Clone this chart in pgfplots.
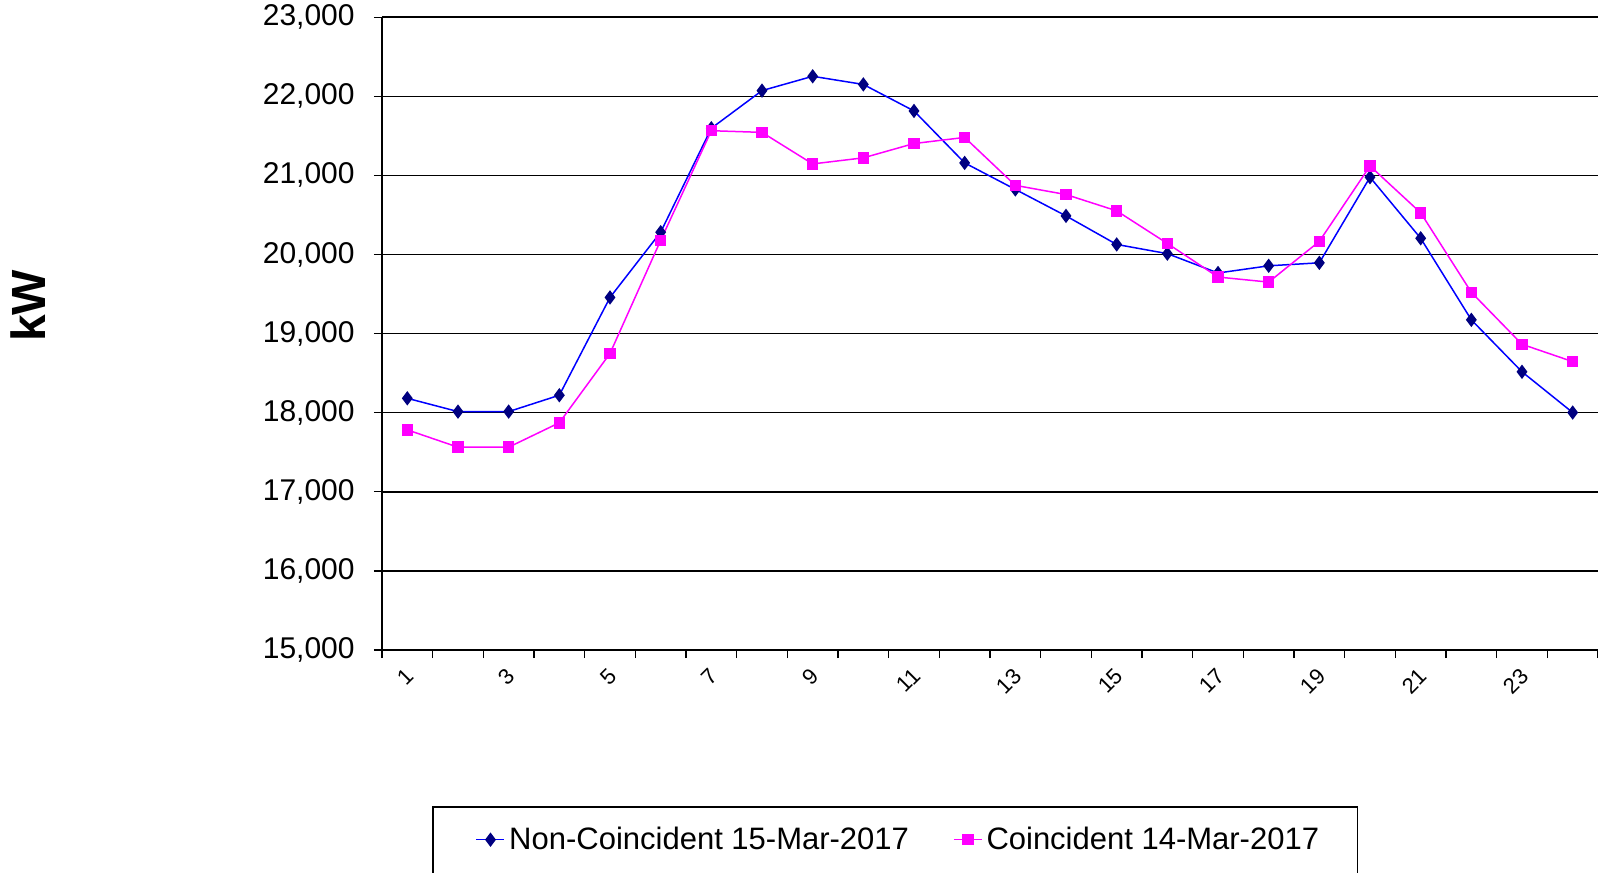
\documentclass[border=0pt]{standalone}
\usepackage{pgfplots}
\pgfplotsset{compat=1.18}
\usepackage{pgfplotstable}
\usepackage{fontspec}
\setmainfont{Liberation Sans}
\definecolor{navyd}{RGB}{0,0,128}
\definecolor{lineblue}{RGB}{0,0,255}
\definecolor{mag}{RGB}{255,0,255}

\pgfplotstableread{
h nc
1 18182
2 18014
3 18014
4 18221
5 19457
6 20282
7 21596
8 22072
9 22253
10 22150
11 21815
12 21158
13 20823
14 20488
15 20127
16 20011
17 19766
18 19857
19 19895
20 20977
21 20205
22 19174
23 18517
24 18002
}\noncoinc

\pgfplotstableread{
h c
1 17783
2 17564
3 17564
4 17873
5 18749
6 20179
7 21565
8 21544
9 21145
10 21222
11 21403
12 21480
13 20874
14 20758
15 20552
16 20140
17 19715
18 19651
19 20166
20 21119
21 20527
22 19522
23 18865
24 18646
}\coinc

\begin{document}
\begin{tikzpicture}
\begin{axis}[
  at={(0,0)}, anchor=south west,
  scale only axis,
  width=608pt, height=316.4pt,
  xmin=0.5, xmax=24.5,
  ymin=15000, ymax=23000,
  ytick={15000,16000,...,23000},
  scaled y ticks=false,
  /pgf/number format/.cd, 1000 sep={,}, assume math mode=true, /pgfplots/.cd,
  axis x line*=bottom, axis y line*=left,
  axis line style={-, black, line width=0.75pt},
  tick align=outside,
  major tick length=4pt,
  minor tick length=4pt,
  tick style={black, line width=0.6pt},
  xtick={1,3,...,23},
  minor xtick={0.5,1.5,...,24.5},
  major x tick style={draw=none},
  xticklabel style={xshift=-1.5pt, yshift=-4.2pt, rotate=45, anchor=north east, inner sep=0pt,
      font=\fontsize{11}{12}\selectfont},
  yticklabel style={font=\fontsize{15}{18}\selectfont, inner sep=1.5pt, xshift=-8pt},
  ymajorgrids,
  grid style={black, line width=0.75pt},
  ylabel={kW},
  ylabel style={font=\bfseries\fontsize{24}{24}\selectfont, at={(axis description cs:-0.2908,0.544)}, anchor=center},
  legend columns=2,
  legend style={at={(axis description cs:0.4255,-0.2998)}, anchor=center, draw=none, fill=none,
    font=\fontsize{15.5}{18}\selectfont,
    /tikz/every even column/.append style={column sep=20pt}},
  legend image code/.code={\draw[mark repeat=2,mark phase=2,#1] plot coordinates {(0pt,0pt) (7pt,0pt) (14pt,0pt)};},
  clip=false,
]
\addplot[lineblue, line width=0.75pt, mark=diamond*, mark size=3pt,
  mark options={fill=navyd, draw=navyd, solid}] table[x=h, y=nc] {\noncoinc};
\addlegendentry{Non-Coincident 15-Mar-2017}
\addplot[mag, line width=0.75pt, mark=square*, mark size=2.5pt,
  mark options={fill=mag, draw=mag, solid}] table[x=h, y=c] {\coinc};
\addlegendentry{Coincident 14-Mar-2017}
\end{axis}
\draw[black, line width=0.6pt] (25.5pt,-78.5pt) rectangle (487.7pt,-130pt);
\pgfresetboundingbox
\path[use as bounding box] (-191pt,-111pt) rectangle (608pt,325pt);
\end{tikzpicture}
\end{document}
